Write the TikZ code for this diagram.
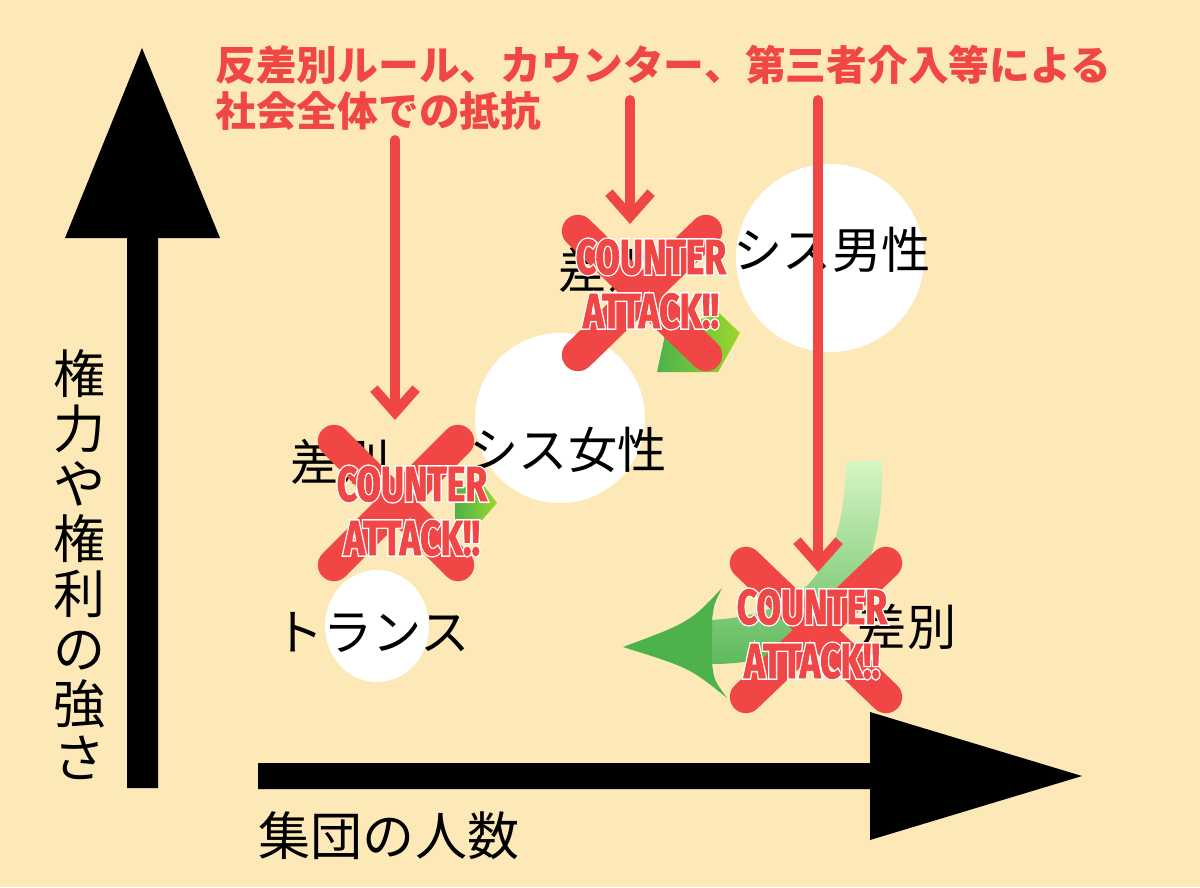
\documentclass[tikz,border=0pt]{standalone}
\usepackage{fontspec}
\usetikzlibrary{positioning,calc,arrows.meta}
\newfontfamily\jpfont{Noto Sans CJK JP}
\newfontfamily\ctrfont[FakeStretch=0.72,FakeBold=1.5]{Fira Sans}
\newfontfamily\ctrhalo[FakeStretch=0.72,FakeBold=7]{Fira Sans}
\definecolor{Paper}{HTML}{FDE9B7}
\definecolor{Alarm}{HTML}{F04646}
\definecolor{Leaf}{HTML}{4DB24A}
\definecolor{LeafPale}{HTML}{D6F6C4}
\definecolor{Lime}{HTML}{9CD62C}

\tikzset{
  grouptext/.style={font=\jpfont\fontsize{35}{40}\selectfont,inner sep=0pt},
  axistext/.style={font=\jpfont\fontsize{37}{39}\selectfont,inner sep=0pt,align=center},
  headline/.style={font=\jpfont\bfseries\fontsize{29}{32}\selectfont,text=Alarm,inner sep=0pt},
  crossbar/.style={line width=23pt,Alarm,line cap=round},
  pushdown/.style={line width=7pt,Alarm,line cap=round,
    -{Straight Barb[length=17pt,width=30pt,line width=7pt]}},
  ctr/.style={font=\ctrfont\bfseries\fontsize{35}{38.4}\selectfont,text=Alarm,align=center,inner sep=0pt},
  halo/.style={font=\ctrhalo\bfseries\fontsize{35}{38.4}\selectfont,text=white,align=center,inner sep=0pt}
}

\begin{document}
\begin{tikzpicture}[x=0.025cm,y=-0.025cm]
    \fill[Paper] (0,0) rectangle (1200,887);

    % axes
    \fill (127,788) -- (127,238) -- (65,238) -- (142,48) -- (220,238) -- (158,238) -- (158,788) -- cycle;
    \fill (258,763) -- (870,763) -- (870,712) -- (1082,776) -- (870,840) -- (870,789) -- (258,789) -- cycle;
    \node[axistext] (ylab) at (80,565) {権\\力\\や\\権\\利\\の\\強\\さ};
    \node[axistext] (xlab) at (389,836) {集団の人数};

    % groups
    \fill[white] (830,258) circle (94);
    \fill[white] (560,418) circle (85);
    \fill[white] (377,626) ellipse (52 and 56);

    % discrimination arrows (mostly hidden)
    \shade[left color=Leaf,right color=Lime] (657,372) -- (665,335) -- (718,312) -- (740,333) -- (718,372) -- cycle;
    \shade[left color=Leaf,right color=Lime] (455,488) -- (484,486) -- (497,503) -- (482,520) -- (455,520) -- cycle;
    \shade[top color=LeafPale,bottom color=Leaf!90] (846,462) -- (882,460)
      .. controls (886,600) and (820,664) .. (712,664) -- (712,620)
      .. controls (800,614) and (844,575) .. (846,462) -- cycle;
    \fill[Leaf] (722,588) .. controls (690,622) .. (623,647) .. controls (690,668) .. (727,698)
      .. controls (714,680) .. (712,663) -- (712,620) .. controls (714,604) .. cycle;

    \node[grouptext] (male) at (832,250) {シス男性};
    \node[grouptext] (female) at (568,450) {シス女性};
    \node[grouptext] (trans) at (372,632) {トランス};
    \node[grouptext] (discA) at (608,270) {差別};
    \node[grouptext] (discB) at (340,462) {差別};
    \node[grouptext] (discC) at (907,627) {差別};

    % crosses
    \foreach \cx/\cy/\dx/\dy in {642/293/64/62, 396/503/62/62, 816/630/70/67}
    {
      \draw[crossbar] (\cx-\dx,\cy-\dy) -- (\cx+\dx,\cy+\dy);
      \draw[crossbar] (\cx+\dx,\cy-\dy) -- (\cx-\dx,\cy+\dy);
    }

    % resistance
    \node[headline,anchor=base west] (mottoA) at (215,80) {反差別ルール、カウンター、第三者介入等による};
    \node[headline,anchor=base west] (mottoB) at (215,126) {社会全体での抵抗};
    \coordinate (fromA) at (395,140);
    \coordinate (toA) at (395,420);
    \coordinate (fromB) at (630,100);
    \coordinate (toB) at (630,224);
    \coordinate (fromC) at (818,100);
    \coordinate (toC) at (818,572);
    \draw[pushdown] (fromA) -- (toA);
    \draw[pushdown] (fromB) -- (toB);
    \draw[pushdown] (fromC) -- (toC);

    \foreach \nm/\cx/\cy in {hitA/651/284, hitB/412/511, hitC/812/634}
    {
      \node[halo] (\nm halo) at (\cx,\cy) {COUNTER\\ATTACK!!};
      \node[ctr] (\nm) at (\cx,\cy) {COUNTER\\ATTACK!!};
    }
  \end{tikzpicture}
\end{document}
